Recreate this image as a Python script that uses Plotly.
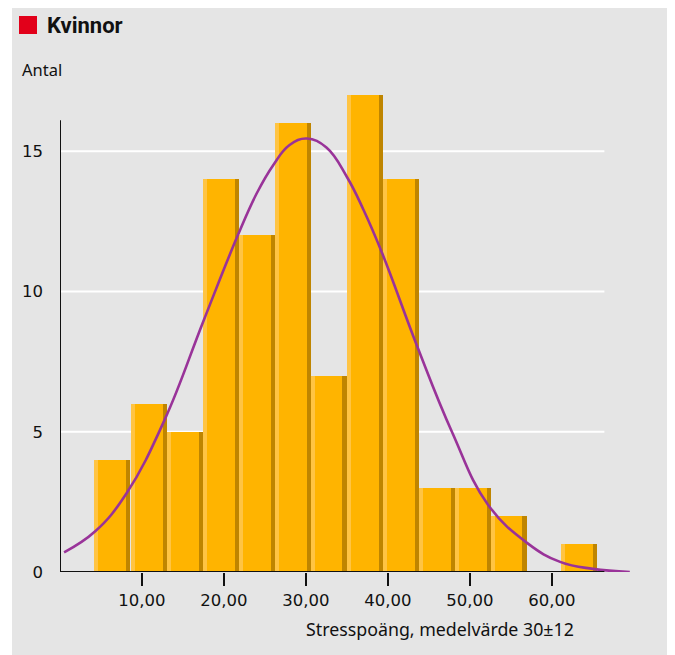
import plotly.graph_objects as go

# ---- data ----
bin_left = [4.18, 8.61, 13.02, 17.40, 21.82, 26.20, 30.55, 34.95, 39.35, 43.75, 48.15, 52.50, 56.85, 61.05]
bin_width = 4.4
counts = [4, 6, 5, 14, 12, 16, 7, 17, 14, 3, 3, 2, 0, 1]

curve_x = [0.5, 4.3, 8.1, 12.8, 17.5, 21.7, 24.0, 26.0, 28.0, 30.1, 32.5, 35.0, 37.0, 39.3,
           43.6, 47.8, 52.2, 57.0, 61.0, 65.0, 69.5]
curve_y = [0.70, 1.45, 2.80, 5.45, 8.95, 12.01, 13.50, 14.50, 15.22, 15.45, 15.13, 14.08, 12.92,
           11.36, 8.02, 5.00, 2.40, 1.03, 0.36, 0.11, 0.0]

x_tickvals = [10, 20, 30, 40, 50, 60]
x_ticktext = ["10,00", "20,00", "30,00", "40,00", "50,00", "60,00"]
y_tickvals = [0, 5, 10, 15]
y_ticktext = ["0", "5", "10", "15"]

title_text = "Kvinnor"
y_title = "Antal"
x_title = "Stresspoäng, medelvärde 30±12"

# ---- styling ----
FONT = "Noto Sans"
TICKFONT = "DejaVu Sans"
TITLEFONT = "Roboto"
BAR = "#FFB400"
BAR_LIGHT = "#FFC443"
BAR_DARK = "#BF8500"
CURVE = "#993399"
BG = "#E5E5E5"

OFF = 8  # page body margin
W, H = 675 - OFF, 655 - OFF
AX_L, AX_B = 60 - OFF, 572 - OFF   # pixel of data origin in figure coords
ML = AX_L
MB = H - AX_B
XR = [0, 70.5]
YR = [0, 18]
PW = round(70.5 * 8.2)
PH = round(18 * 28.03)
MR = W - ML - PW
MT = H - MB - PH


def px_x(px):
    """screen pixel -> paper x"""
    return (px - OFF - ML) / PW


def px_y(py):
    """screen pixel -> paper y"""
    return (H - MB - (py - OFF)) / PH


centers = [l + bin_width / 2 for l in bin_left]
stripe = 0.5

fig = go.Figure()
fig.add_trace(go.Bar(x=centers, y=counts, width=[bin_width] * len(counts),
                     marker=dict(color=BAR, line=dict(width=0)), hoverinfo="skip"))
fig.add_trace(go.Bar(x=centers, y=counts, width=[stripe] * len(counts),
                     offset=[-bin_width / 2] * len(counts),
                     marker=dict(color=BAR_LIGHT, line=dict(width=0)), hoverinfo="skip"))
fig.add_trace(go.Bar(x=centers, y=counts, width=[stripe] * len(counts),
                     offset=[bin_width / 2 - stripe] * len(counts),
                     marker=dict(color=BAR_DARK, line=dict(width=0)), hoverinfo="skip"))
fig.add_trace(go.Scatter(x=curve_x, y=curve_y, mode="lines",
                         line=dict(color=CURVE, width=2.6, shape="spline", smoothing=1.2),
                         hoverinfo="skip", cliponaxis=False))

shapes = []
# grey panel background
shapes.append(dict(type="rect", xref="paper", yref="paper",
                   x0=px_x(12), x1=px_x(680),
                   y0=px_y(660), y1=px_y(6),
                   fillcolor=BG, line=dict(width=0), layer="below"))
# gridlines
for v in y_tickvals[1:]:
    shapes.append(dict(type="line", xref="x", yref="y", x0=0, x1=66.4, y0=v, y1=v,
                       line=dict(color="white", width=2), layer="below"))
# axes lines
shapes.append(dict(type="line", xref="x", yref="y", x0=0, x1=66.4, y0=0, y1=0,
                   line=dict(color="#111111", width=2), layer="above"))
shapes.append(dict(type="line", xref="x", yref="y", x0=0, x1=0, y0=0, y1=16.1,
                   line=dict(color="#111111", width=2), layer="above"))
# red title square
shapes.append(dict(type="rect", xref="paper", yref="paper",
                   x0=px_x(19), x1=px_x(37),
                   y0=px_y(34), y1=px_y(16),
                   fillcolor="#E2001A", line=dict(width=0)))

annotations = [
    dict(text="<b>" + title_text + "</b>", xref="paper", yref="paper",
         x=px_x(45), y=px_y(26), xanchor="left", yanchor="middle",
         showarrow=False, font=dict(family=TITLEFONT, size=22, color="#111111")),
    dict(text=y_title, xref="paper", yref="paper",
         x=px_x(20), y=px_y(69), xanchor="left", yanchor="middle",
         showarrow=False, font=dict(family=FONT, size=16.5, color="#111111")),
    dict(text=x_title, xref="paper", yref="paper",
         x=px_x(576), y=px_y(629), xanchor="right", yanchor="middle",
         showarrow=False, font=dict(family=FONT, size=17.8, color="#111111")),
]

fig.update_layout(
    width=W, height=H,
    margin=dict(l=ML, r=MR, t=MT, b=MB, pad=0),
    paper_bgcolor="white", plot_bgcolor="rgba(0,0,0,0)",
    barmode="overlay", bargap=0, showlegend=False,
    shapes=shapes, annotations=annotations,
    font=dict(family=FONT, color="#111111"),
    xaxis=dict(range=XR, showgrid=False, zeroline=False, showline=False,
               tickmode="array", tickvals=x_tickvals, ticktext=x_ticktext,
               ticks="outside", ticklen=13, tickwidth=2, tickcolor="#111111",
               tickfont=dict(family=TICKFONT, size=16.5, color="#111111"), fixedrange=True),
    yaxis=dict(range=YR, showgrid=False, zeroline=False, showline=False,
               tickmode="array", tickvals=y_tickvals, ticktext=y_ticktext,
               ticks="", ticklabelstandoff=16,
               tickfont=dict(family=TICKFONT, size=16.5, color="#111111"), fixedrange=True),
)

fig.write_html("out.html", config={"displayModeBar": False})
